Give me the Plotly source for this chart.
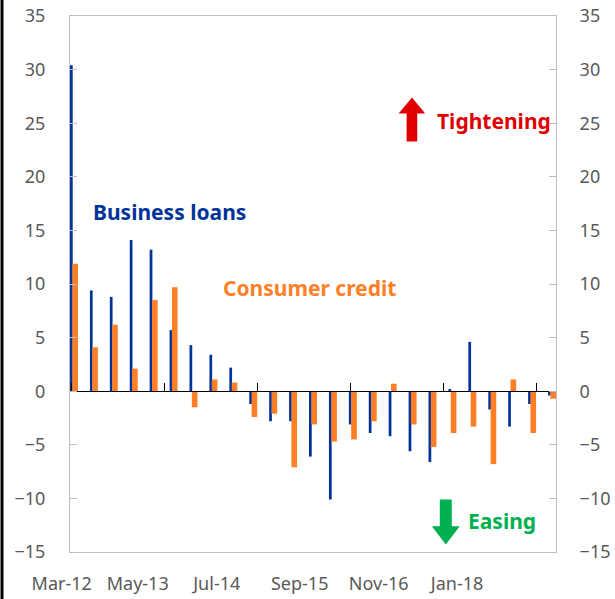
import plotly.graph_objects as go

# Quarterly survey dates (Mar-12 ... Mar-18)
quarters = ["Mar-12", "Jun-12", "Sep-12", "Dec-12", "Mar-13", "Jun-13", "Sep-13", "Dec-13",
            "Mar-14", "Jun-14", "Sep-14", "Dec-14", "Mar-15", "Jun-15", "Sep-15", "Dec-15",
            "Mar-16", "Jun-16", "Sep-16", "Dec-16", "Mar-17", "Jun-17", "Sep-17", "Dec-17",
            "Mar-18"]
business_loans = [30.4, 9.4, 8.8, 14.1, 13.2, 5.7, 4.3, 3.4, 2.2, -1.2, -2.8, -2.8, -6.1,
                  -10.1, -3.1, -3.9, -4.2, -5.6, -6.6, 0.2, 4.6, -1.7, -3.3, -1.2, -0.4]
consumer_credit = [11.9, 4.1, 6.2, 2.1, 8.5, 9.7, -1.5, 1.1, 0.8, -2.4, -2.1, -7.1, -3.1,
                   -4.7, -4.5, -2.8, 0.7, -3.1, -5.2, -3.9, -3.3, -6.8, 1.1, -3.9, -0.7]

x_labels = ["Mar-12", "May-13", "Jul-14", "Sep-15", "Nov-16", "Jan-18"]
x_label_months = [-1.45, 10.0, 21.9, 34.4, 46.3, 58.1]   # label centres, months from Mar-12
major_tick_months = [0, 14, 28, 42, 56, 70]              # 14-month major ticks

y_ticks = [-15, -10, -5, 0, 5, 10, 15, 20, 25, 30, 35]

months = [3 * i for i in range(len(quarters))]

BLUE = "#00339A"
ORANGE = "#FF7F27"
GREY = "#595959"
BORDER = "#BFBFBF"
FONT = "Noto Sans"

ML, MR, MT, MB = 70, 59, 16, 47
W, H = 615, 599
PW = W - ML - MR
PH = H - MT - MB
X_RANGE = [-0.2, 73.0]
px_per_month = PW / (X_RANGE[1] - X_RANGE[0])

fig = go.Figure()
fig.add_trace(go.Bar(x=months, y=business_loans, name="Business loans",
                     marker=dict(color=BLUE, line=dict(width=0)),
                     width=0.41, offset=-0.2,
                     customdata=quarters, hovertemplate="%{customdata}: %{y}<extra></extra>"))
fig.add_trace(go.Bar(x=months, y=consumer_credit, name="Consumer credit",
                     marker=dict(color=ORANGE, line=dict(width=0)),
                     width=0.85, offset=0.15,
                     customdata=quarters, hovertemplate="%{customdata}: %{y}<extra></extra>"))
# helper (empty) traces so the zero-line axis and right axis exist
fig.add_trace(go.Scatter(x=[None], y=[None], xaxis="x2", yaxis="y", showlegend=False,
                         hoverinfo="skip", mode="markers"))
fig.add_trace(go.Scatter(x=[None], y=[None], xaxis="x", yaxis="y2", showlegend=False,
                         hoverinfo="skip", mode="markers"))

shift = 10  # px, labels shifted left so first tick value stays inside range

fig.update_layout(
    width=W, height=H,
    margin=dict(l=ML, r=MR, t=MT, b=MB, autoexpand=False),
    paper_bgcolor="white", plot_bgcolor="white",
    showlegend=False,
    barmode="overlay",
    font=dict(family=FONT, size=18, color=GREY),
    xaxis=dict(range=X_RANGE, showgrid=False, zeroline=False, automargin=False,
               showline=True, mirror=True, linecolor=BORDER, linewidth=1,
               tickmode="array",
               tickvals=[m + shift / px_per_month for m in x_label_months],
               ticktext=x_labels, ticks="", ticklabelshift=-shift,
               ticklabelstandoff=15, tickfont=dict(size=18, color=GREY)),
    xaxis2=dict(range=X_RANGE, overlaying="x", anchor="free", position=0.3,
                automargin=False,
                showgrid=False, zeroline=False, showline=True, linecolor="black",
                linewidth=1.3, ticks="inside", ticklen=8, tickwidth=1.3,
                tickcolor="black", tickmode="array", tickvals=major_tick_months,
                showticklabels=False),
    yaxis=dict(range=[-15, 35], tickmode="array", tickvals=y_ticks, showgrid=False,
               zeroline=False, showline=True, mirror=True, linecolor=BORDER,
               automargin=False,
               ticks="inside", ticklen=7, tickcolor=BORDER, ticklabelstandoff=20,
               tickfont=dict(size=18, color=GREY)),
    yaxis2=dict(range=[-15, 35], overlaying="y", side="right", tickmode="array",
                tickvals=y_ticks, showgrid=False, zeroline=False, showline=True,
                automargin=False,
                linecolor=BORDER, ticks="inside", ticklen=7, tickcolor=BORDER,
                ticklabelstandoff=19, tickfont=dict(size=18, color=GREY)),
)

annotations = [
    dict(text="<b>Business loans</b>", x=14.8, y=16.7, color=BLUE),
    dict(text="<b>Consumer credit</b>", x=35.9, y=9.6, color=ORANGE),
    dict(text="<b>Tightening</b>", x=63.6, y=25.25, color="#E00000"),
    dict(text="<b>Easing</b>", x=64.9, y=-12.1, color="#00B050"),
]
for a in annotations:
    fig.add_annotation(text=a["text"], x=a["x"], y=a["y"], xref="x", yref="y",
                       showarrow=False, xanchor="center", yanchor="middle",
                       font=dict(family=FONT, size=21, color=a["color"]))

# Block arrows
def block_arrow(cx, y_tip, y_neck, y_tail, head_w, shaft_w):
    return (f"M {cx - shaft_w/2} {y_tail} L {cx - shaft_w/2} {y_neck} L {cx - head_w/2} {y_neck} "
            f"L {cx} {y_tip} L {cx + head_w/2} {y_neck} L {cx + shaft_w/2} {y_neck} "
            f"L {cx + shaft_w/2} {y_tail} Z")

fig.add_shape(type="path", xref="x", yref="y",
              path=block_arrow(51.3, 27.4, 25.9, 23.3, 4.0, 1.6),
              fillcolor="#E00000", line=dict(width=0))
fig.add_shape(type="path", xref="x", yref="y",
              path=block_arrow(56.4, -14.3, -12.6, -10.1, 4.2, 1.8),
              fillcolor="#00B050", line=dict(width=0))

# left image border
bx = (2.0 - ML) / PW
fig.add_shape(type="rect", xref="paper", yref="paper", layer="above",
              x0=bx - 1.5 / PW, x1=bx + 1.5 / PW, y0=-MB / PH, y1=1 + MT / PH,
              fillcolor="black", line=dict(width=0))

fig.write_html("out.html", config={"displayModeBar": False},
               post_script="document.body.style.margin='0';document.body.style.overflow='hidden';")
